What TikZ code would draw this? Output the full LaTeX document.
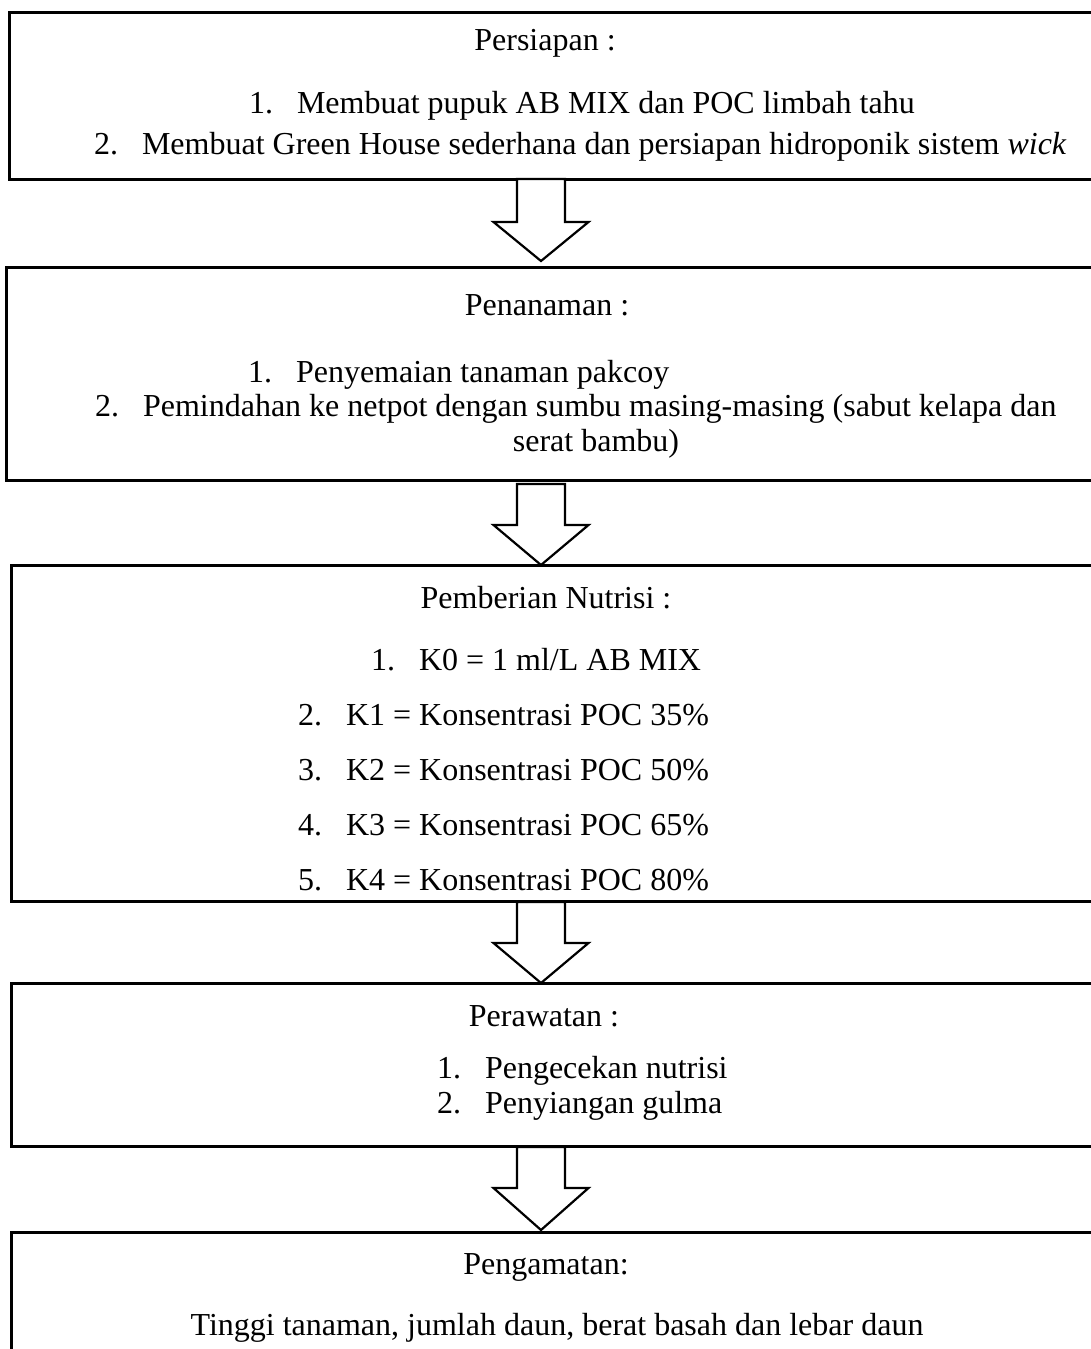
\documentclass[tikz,border=0pt]{standalone}
\usepackage{fontspec}
\setmainfont{Liberation Serif}
\begin{document}
\begin{tikzpicture}[x=1pt,y=-1pt,
  box/.style={draw=black, line width=3pt, inner sep=0pt, outer sep=0pt, anchor=north west},
  barrow/.style={draw=black, fill=white, line width=2.2pt, line join=miter},
  txt/.style={inner sep=0pt, outer sep=0pt, font=\fontsize{32}{38}\selectfont},
  ctr/.style={txt, anchor=base},
  lft/.style={txt, anchor=base west}]
\useasboundingbox (0,0) rectangle (1091,1349);
\newcommand\numlab[1]{\makebox[48pt][l]{#1}}
\newcommand\blkarrow[3]{\draw[barrow] (517,#1) -- (517,#2) -- (493.5,#2) -- (541,#3) -- (588.5,#2) -- (565,#2) -- (565,#1) -- cycle;}
% boxes
\node (b1) [box, minimum width=1095pt, minimum height=167pt] at (9,12) {};
\node (b2) [box, minimum width=1100pt, minimum height=213pt] at (6,267) {};
\node (b3) [box, minimum width=1095pt, minimum height=336pt] at (11,565) {};
\node (b4) [box, minimum width=1095pt, minimum height=163pt] at (11,983) {};
\node (b5) [box, minimum width=1095pt, minimum height=140pt] at (11,1232) {};
% arrows
\blkarrow{179}{222}{261}
\blkarrow{484}{525}{565}
\blkarrow{902}{943}{983}
\blkarrow{1147}{1188}{1230}
% box 1
\node (t1) [ctr] at (545,50) {Persiapan :};
\node (t1a) [lft] at (249,113) {\numlab{1.}Membuat pupuk AB MIX dan POC limbah tahu};
\node (t1b) [lft] at (94,154) {\numlab{2.}Membuat Green House sederhana dan persiapan hidroponik sistem \textit{wick}};
% box 2
\node (t2) [ctr] at (547,315) {Penanaman :};
\node (t2a) [lft] at (248,382) {\numlab{1.}Penyemaian tanaman pakcoy};
\node (t2b) [lft] at (95,416) {\numlab{2.}Pemindahan ke netpot dengan sumbu masing-masing (sabut kelapa dan};
\node (t2c) [ctr] at (596,451) {serat bambu)};
% box 3
\node (t3) [ctr] at (546,608) {Pemberian Nutrisi :};
\node (t3a) [lft] at (371,670) {\numlab{1.}K0 = 1 ml/L AB MIX};
\node (t3b) [lft] at (298,725) {\numlab{2.}K1 = Konsentrasi POC 35\%};
\node (t3c) [lft] at (298,780) {\numlab{3.}K2 = Konsentrasi POC 50\%};
\node (t3d) [lft] at (298,835) {\numlab{4.}K3 = Konsentrasi POC 65\%};
\node (t3e) [lft] at (298,890) {\numlab{5.}K4 = Konsentrasi POC 80\%};
% box 4
\node (t4) [ctr] at (544,1026) {Perawatan :};
\node (t4a) [lft] at (437,1078) {\numlab{1.}Pengecekan nutrisi};
\node (t4b) [lft] at (437,1113) {\numlab{2.}Penyiangan gulma};
% box 5
\node (t5) [ctr] at (546,1274) {Pengamatan:};
\node (t5a) [ctr] at (557,1335) {Tinggi tanaman, jumlah daun, berat basah dan lebar daun};
\end{tikzpicture}
\end{document}
